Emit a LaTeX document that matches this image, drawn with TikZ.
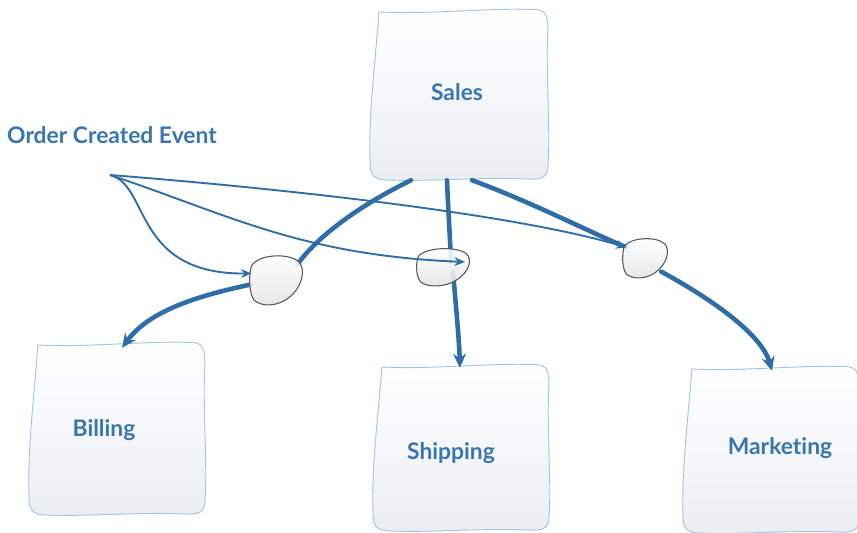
\documentclass[tikz,border=0pt]{standalone}
\usepackage{fontspec}
\setmainfont{Lato}[Ligatures=CommonOff]
\usepackage{tikz}
\usetikzlibrary{arrows.meta,positioning,calc}
\usepackage{xcolor}
\definecolor{linkblue}{HTML}{2F6DA6}
\definecolor{textblue}{HTML}{3A76AE}
\definecolor{frameblue}{HTML}{A8C3DF}
\definecolor{boxbottom}{HTML}{EAEEF3}
\definecolor{blobedge}{HTML}{555555}
\definecolor{blobbottom}{HTML}{E4E4E4}
% hand-drawn square with its label: name, cx, cy, half width, half height, text, text dx, text dy
\newcommand{\contextbox}[8]{%
  \begin{scope}[shift={(#2,#3)},xscale=#4,yscale=#5]
    \shadedraw[boxframe] (-0.9,-1) .. controls (-0.3,-0.97) and (0.3,-1.05) .. (0.85,-1.03)
      .. controls (0.97,-1.03) and (1.0,-0.95) .. (1.0,-0.8)
      .. controls (0.97,-0.3) and (1.03,0.4) .. (1.0,0.82)
      .. controls (1.0,0.97) and (0.93,0.99) .. (0.8,0.99)
      .. controls (0.3,0.96) and (-0.3,1.02) .. (-0.8,1.0)
      .. controls (-0.97,1.0) and (-1.0,0.93) .. (-1.0,0.78)
      .. controls (-1.02,0.2) and (-0.93,-0.5) .. (-0.9,-1) -- cycle;
  \end{scope}
  \node[boxlabel,minimum width=#4*0.06cm,minimum height=#5*0.06cm] (#1) at (#2+#7,#3+#8) {#6};
}
% small pebble round a handler node
\newcommand{\blobshape}[3]{%
  \begin{scope}[shift={(#1.center)},xscale=#2,yscale=#3]
    \shadedraw[blobframe] (-0.95,-0.55) .. controls (-0.7,-1.05) and (0.55,-1.1) .. (0.9,-0.7)
      .. controls (1.15,-0.4) and (1.0,0.3) .. (0.5,0.7)
      .. controls (0.1,1.05) and (-0.55,1.1) .. (-0.85,0.8)
      .. controls (-1.05,0.5) and (-1.05,-0.2) .. (-0.95,-0.55) -- cycle;
  \end{scope}
}

\begin{document}
\begin{tikzpicture}[x=0.03cm,y=-0.03cm,
  boxframe/.style={draw=frameblue,line width=0.8pt,top color=white,bottom color=boxbottom},
  boxlabel/.style={rectangle,inner sep=0pt,text=textblue,font=\fontsize{19.5}{23}\selectfont\bfseries},
  blobframe/.style={draw=blobedge,line width=0.9pt,top color=white,bottom color=blobbottom,fill opacity=0.9},
  blobspot/.style={circle,inner sep=0pt,minimum size=#1*0.03cm},
  heavy/.style={draw=linkblue,line width=3.9pt,line cap=round},
  heavyarrow/.style={heavy,-{Stealth[length=12pt,width=11pt]}},
  light/.style={draw=linkblue,line width=1.6pt,-{Stealth[length=9pt,width=7.5pt]}}
]
\useasboundingbox (0,0) rectangle (857,533);

\contextbox{sales}{459}{96}{89}{84}{Sales}{-2}{-4}
\contextbox{billing}{117}{430}{88}{85}{Billing}{-13}{0}
\contextbox{shipping}{461}{449}{88}{82}{Shipping}{-10}{4}
\contextbox{marketing}{771}{451}{88}{82}{Marketing}{9}{-3}

\node[boxlabel,anchor=west] (event) at (7,135) {Order Created Event};
\coordinate (src) at (110,175);

\node[blobspot=50] (b1) at (276,280) {};
\node[blobspot=44] (b2) at (443,267) {};
\node[blobspot=42] (b3) at (645,258) {};

% sales to the handlers and on to each service
\draw[heavy] ($(sales.south)+(-46,4)$) .. controls +(-51,25) and +(20,-29) .. (b1.35);
\draw[heavyarrow] (b1.190) .. controls +(-51,11) and +(28,-38) .. ($(billing.north)+(18,3)$);
\draw[heavy] ($(sales.south)+(-10,4)$) .. controls +(1,25) and +(-1,-25) .. ($(b2.center)+(8,-5)$);
\draw[heavyarrow] ($(b2.center)+(10,5)$) .. controls +(3,35) and +(-1,-30) .. ($(shipping.north)+(9,-3)$);
\draw[heavy] ($(sales.south)+(15,4)$) .. controls +(60,22) and +(-30,-12) .. (b3.150);
\draw[heavyarrow] (b3.-40) .. controls +(55,30) and +(-10,-35) .. ($(marketing.north)+(-8,5)$);

\blobshape{b1}{26}{25}
\blobshape{b2}{26}{19}
\blobshape{b3}{22}{20}

% event fan-out
\draw[light] (src) .. controls +(40,10) and +(-119,1) .. (b1.165);
\draw[light] (src) .. controls +(120,40) and +(-165,-7) .. ($(b2.center)+(22,-5)$);
\draw[light] (src) .. controls +(190,15) and +(-107,-32) .. (b3.150);
\end{tikzpicture}
\end{document}
